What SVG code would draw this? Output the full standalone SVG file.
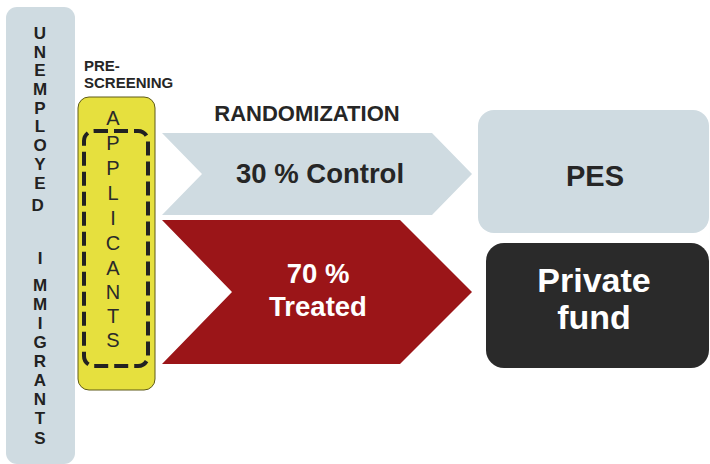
<svg xmlns="http://www.w3.org/2000/svg" width="710" height="464" viewBox="0 0 710 464">
<style>
.b{font-family:"Liberation Sans",Arial,sans-serif;font-weight:bold}
.r{font-family:"Liberation Sans",Arial,sans-serif}
.v{font-size:17px;fill:#222;text-anchor:middle}
.a{font-size:20px;fill:#2a2a2a;text-anchor:middle}
</style>
<rect width="710" height="464" fill="#fff"/>
<g id="unemployed">
<rect x="6" y="7" width="69" height="457" rx="11" fill="#cfdbe1"/>
<text class="b v" x="40">
<tspan x="40" y="39">U</tspan><tspan x="40" y="58">N</tspan><tspan x="40" y="76">E</tspan><tspan x="40" y="95">M</tspan><tspan x="40" y="114">P</tspan><tspan x="40" y="132">L</tspan><tspan x="40" y="151">O</tspan><tspan x="40" y="170">Y</tspan><tspan x="40" y="189">E</tspan><tspan x="40" y="211">D</tspan>
<tspan x="40" y="264">I</tspan><tspan x="40" y="291">M</tspan><tspan x="40" y="310">M</tspan><tspan x="40" y="329">I</tspan><tspan x="40" y="348">G</tspan><tspan x="40" y="367">R</tspan><tspan x="40" y="386">A</tspan><tspan x="40" y="405">N</tspan><tspan x="40" y="424">T</tspan><tspan x="40" y="444">S</tspan>
</text>
</g>
<g id="prescreening">
<text class="b" font-size="15" fill="#262626"><tspan x="84" y="71">PRE-</tspan><tspan x="84" y="88">SCREENING</tspan></text>
</g>
<g id="applicants">
<rect x="78" y="97" width="77" height="293" rx="11" fill="#e6e03e" stroke="#5e5a18" stroke-width="1"/>
<rect x="84" y="131" width="64" height="235" rx="10" fill="none" stroke="#222" stroke-width="4" stroke-dasharray="14 6"/>
<text class="r a">
<tspan x="113" y="125">A</tspan><tspan x="113" y="150">P</tspan><tspan x="113" y="175">P</tspan><tspan x="113" y="200">L</tspan><tspan x="113" y="225">I</tspan><tspan x="113" y="250">C</tspan><tspan x="113" y="275">A</tspan><tspan x="113" y="299">N</tspan><tspan x="113" y="323">T</tspan><tspan x="113" y="347">S</tspan>
</text>
</g>
<g id="randomization">
<text class="b" x="307" y="121" font-size="22" fill="#262626" text-anchor="middle">RANDOMIZATION</text>
</g>
<g id="control">
<polygon points="162,133 432,133 472,174 432,215 162,215 202,174" fill="#cfdbe1"/>
<text class="b" x="320" y="183" font-size="27.5" fill="#262626" text-anchor="middle">30 % Control</text>
</g>
<g id="treated">
<polygon points="162,220 400,220 472,292 400,364 162,364 232,292" fill="#9b1518"/>
<text class="b" font-size="27.5" fill="#fff" text-anchor="middle"><tspan x="318" y="283">70 %</tspan><tspan x="318" y="316">Treated</tspan></text>
</g>
<g id="pes">
<rect x="478" y="110" width="231" height="123" rx="16" fill="#cfdbe1"/>
<text class="b" x="595" y="186" font-size="29" fill="#262626" text-anchor="middle">PES</text>
</g>
<g id="private">
<rect x="486" y="243" width="223" height="125" rx="18" fill="#2a2a2a"/>
<text class="b" font-size="34" fill="#fff" text-anchor="middle"><tspan x="594" y="292">Private</tspan><tspan x="594" y="329">fund</tspan></text>
</g>
<g id="connectors"></g>
</svg>
